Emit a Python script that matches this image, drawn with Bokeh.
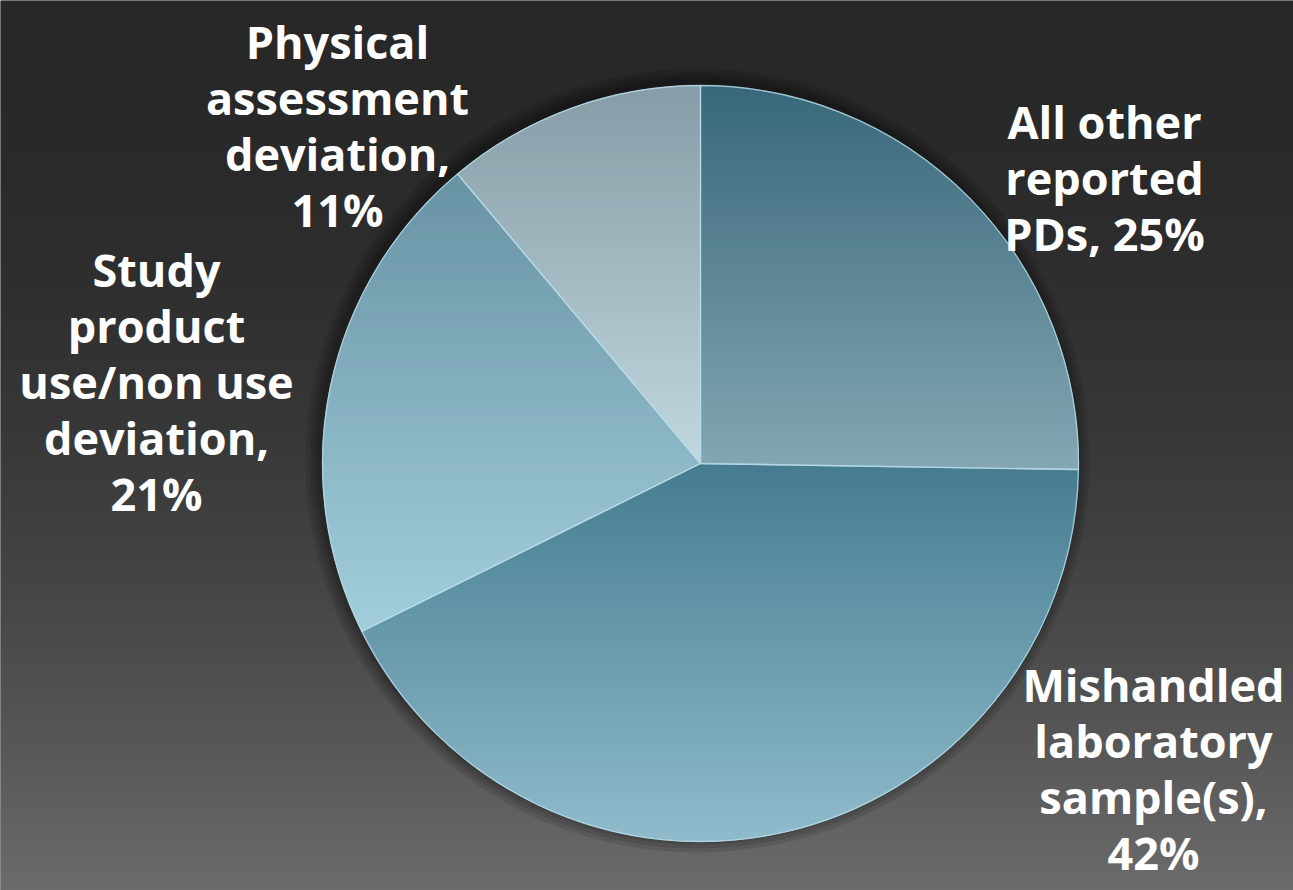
import numpy as np
from bokeh.plotting import figure
from bokeh.models import Range1d, ColumnDataSource
from bokeh.embed import file_html
from bokeh.resources import INLINE
from bokeh.core.properties import value

# ---------------- data ----------------
categories = ["All other reported PDs", "Mishandled laboratory sample(s)",
              "Study product use/non use deviation", "Physical assessment deviation"]
percent = [25, 42, 21, 11]
label_lines = [["All other", "reported", "PDs, 25%"],
               ["Mishandled", "laboratory", "sample(s),", "42%"],
               ["Study", "product", "use/non use", "deviation,", "21%"],
               ["Physical", "assessment", "deviation,", "11%"]]

# ---------------- style / layout ----------------
top_colors = ["#38687a", "#467c8f", "#6893a4", "#869ca6"]
bottom_colors = ["#84a7b4", "#90bccc", "#a3cfdd", "#c2d8e0"]
label_x = [1104, 1153, 156, 337]
label_y_ref = [177, 768, 381, 125]

W, H = 1293, 890
CX, CY, R = 700.0, 890.0 - 463.0, 378.0

p = figure(width=W, height=H, output_backend="svg", toolbar_location=None,
           x_range=Range1d(0, W), y_range=Range1d(0, H),
           min_border=0)
p.axis.visible = False
p.grid.visible = False
p.outline_line_color = None
p.background_fill_color = "#2b2b2b"
p.border_fill_color = "#2b2b2b"

# background vertical gradient
rows = H
Yref = 890.0 - (np.arange(rows) + 0.5)
v = (40 + 68 * (Yref / 890.0) ** 2).clip(0, 255).astype(np.uint8)
rgba = np.zeros((rows, 1, 4), dtype=np.uint8)
rgba[:, 0, 0] = v
rgba[:, 0, 1] = v
rgba[:, 0, 2] = v
rgba[:, 0, 3] = 255
img = rgba.view(np.uint32).reshape(rows, 1)
p.image_rgba(image=[img], x=0, y=0, dw=W, dh=H)

# soft shadow around the pie
p.circle(x=[CX - 3] * 4, y=[CY + 3] * 4, radius=[R + 14, R + 10, R + 6, R + 3],
         fill_color="black", fill_alpha=0.10, line_alpha=0)

# slice angles from the data
total = float(sum(percent))
frac = np.array(percent) / total
cum = np.concatenate([[0.0], np.cumsum(frac)])
ang_hi = np.pi / 2 - 2 * np.pi * cum[:-1]
ang_lo = np.pi / 2 - 2 * np.pi * cum[1:]

src = ColumnDataSource(dict(x=[CX] * len(percent), y=[CY] * len(percent),
                            start=list(ang_lo), end=list(ang_hi),
                            color=top_colors, cat=categories))
p.wedge(x="x", y="y", radius=R, start_angle="start", end_angle="end",
        fill_color="color", line_color=None, source=src)


def hexrgb(h):
    h = h.lstrip("#")
    return np.array([int(h[i:i + 2], 16) for i in (0, 2, 4)], dtype=float)


def clip(poly, y0, keep_above):
    out = []
    n = len(poly)
    for i in range(n):
        cur = poly[i]
        prev = poly[i - 1]
        cin = cur[1] >= y0 if keep_above else cur[1] <= y0
        pin = prev[1] >= y0 if keep_above else prev[1] <= y0
        if cin:
            if not pin:
                t = (y0 - prev[1]) / (cur[1] - prev[1])
                out.append((prev[0] + t * (cur[0] - prev[0]), y0))
            out.append(cur)
        elif pin:
            t = (y0 - prev[1]) / (cur[1] - prev[1])
            out.append((prev[0] + t * (cur[0] - prev[0]), y0))
    return out


# gradient shading of each slice (bands clipped to the wedge)
bxs, bys, bcol = [], [], []
step = 3.0
for i in range(len(percent)):
    n = max(8, int(abs(ang_hi[i] - ang_lo[i]) * 180 / np.pi * 2))
    th = np.linspace(ang_lo[i], ang_hi[i], n)
    poly = [(CX, CY)] + [(CX + R * np.cos(t), CY + R * np.sin(t)) for t in th]
    ys_ = [q[1] for q in poly]
    ymin, ymax = min(ys_), max(ys_)
    c0, c1 = hexrgb(top_colors[i]), hexrgb(bottom_colors[i])
    y0 = ymin
    while y0 < ymax:
        y1 = min(y0 + step, ymax)
        part = clip(clip(poly, y0, True), y1, False)
        if len(part) >= 3:
            tt = (ymax - (y0 + y1) / 2) / (ymax - ymin)
            c = c0 + (c1 - c0) * tt
            col = "#%02x%02x%02x" % tuple(int(round(k)) for k in c)
            bxs.append([q[0] for q in part])
            bys.append([q[1] for q in part])
            bcol.append(col)
        y0 = y1

p.patches(xs=bxs, ys=bys, fill_color=bcol, line_color=bcol, line_width=1.0)

# slice outlines (bevel highlight)
p.wedge(x="x", y="y", radius=R, start_angle="start", end_angle="end",
        fill_alpha=0, line_color="#b8dce8", line_width=1.3, line_alpha=0.8,
        source=src)

# labels
label_text = ["\n".join(l) for l in label_lines]
p.text(x=label_x, y=[890 - yy for yy in label_y_ref], text=label_text,
       text_color="white", text_font=value("Open Sans"), text_font_style="bold",
       text_font_size="45px", text_align="center", text_baseline="middle",
       text_line_height=0.92)

open("out.html", "w").write(file_html(p, INLINE))
